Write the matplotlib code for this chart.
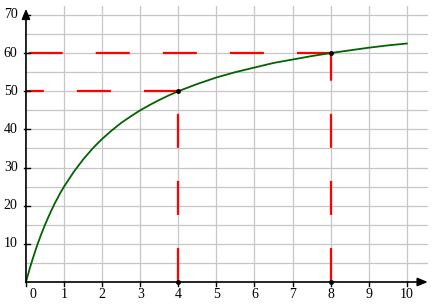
import matplotlib
matplotlib.use("Agg")
import matplotlib.pyplot as plt

# curve
curve_x = [0, 0.1, 0.2, 0.3, 0.4, 0.5, 0.6, 0.75, 0.9, 1, 1.25, 1.5, 1.75, 2, 2.25,
           2.5, 2.75, 3, 3.25, 3.5, 3.75, 4, 4.5, 5, 5.5, 6, 6.5, 7, 7.5, 8,
           8.5, 9, 9.5, 10]
curve_y = [0, 3.6, 6.8, 9.8, 12.5, 15, 17.3, 20.5, 23.3, 25, 28.8, 32.1, 35, 37.5, 39.7,
           41.7, 43.4, 45, 46.4, 47.7, 48.9, 50, 51.9, 53.6, 55, 56.2, 57.4, 58.3, 59.2, 60,
           60.7, 61.4, 62, 62.5]

# marked points (dashed guides down to the axes)
mark_x = [4, 8]
mark_y = [50, 60]

x_ticks = list(range(0, 11))
y_ticks = list(range(10, 80, 10))
grid_x = list(range(1, 11))
grid_y = list(range(5, 75, 5))

plt.rcParams["lines.scale_dashes"] = False
plt.rcParams["font.family"] = "Liberation Serif"

fig = plt.figure(figsize=(4.35, 3.07), dpi=100)
ax = fig.add_axes([0, 0, 1, 1])
ax.set_xlim(-0.682, 10.74)
ax.set_ylim(-6.55, 73.9)
ax.axis("off")

grey = "#c8c6c8"
for gx in grid_x:
    ax.plot([gx, gx], [0, 72.3], color=grey, lw=0.9, zorder=1)
for gy in grid_y:
    ax.plot([0, 10.52], [gy, gy], color=grey, lw=0.9, zorder=1)

# dashed guides, drawn from the point to the y axis and from the x axis up
for px, py in zip(mark_x, mark_y):
    ax.plot([px, 0], [py, py], color="red", lw=1.6, ls=(0, (24.5, 23.8)),
            dash_capstyle="butt", zorder=3)
    ax.plot([px, px], [0, py], color="red", lw=1.6, ls=(0, (24.5, 23.8)),
            dash_capstyle="butt", zorder=3)

ax.plot(curve_x, curve_y, color="#006400", lw=1.3, zorder=4)

# axes with arrows
ax.annotate("", xy=(10.55, 0), xytext=(0, 0),
            arrowprops=dict(arrowstyle="-|>,head_length=0.6,head_width=0.25",
                            color="black", lw=1.2, shrinkA=0, shrinkB=0), zorder=5)
ax.annotate("", xy=(0, 71.6), xytext=(0, 0),
            arrowprops=dict(arrowstyle="-|>,head_length=0.6,head_width=0.25",
                            color="black", lw=1.2, shrinkA=0, shrinkB=0), zorder=5)

for t in x_ticks:
    ax.plot([t, t], [0, -1.1], color="black", lw=1, zorder=5)
    ax.text(t + (0.18 if t == 0 else 0), -3.4, str(t), ha="center", va="center",
            fontsize=10)
for t in y_ticks:
    ax.plot([-0.06, 0.1], [t, t], color="black", lw=1, zorder=5)
    ax.text(-0.22, t, str(t), ha="right", va="center", fontsize=10)

ax.plot(mark_x + mark_x, mark_y + [0, 0], "o", color="black", ms=2.5, zorder=6)

plt.savefig("out.png", dpi=100)
